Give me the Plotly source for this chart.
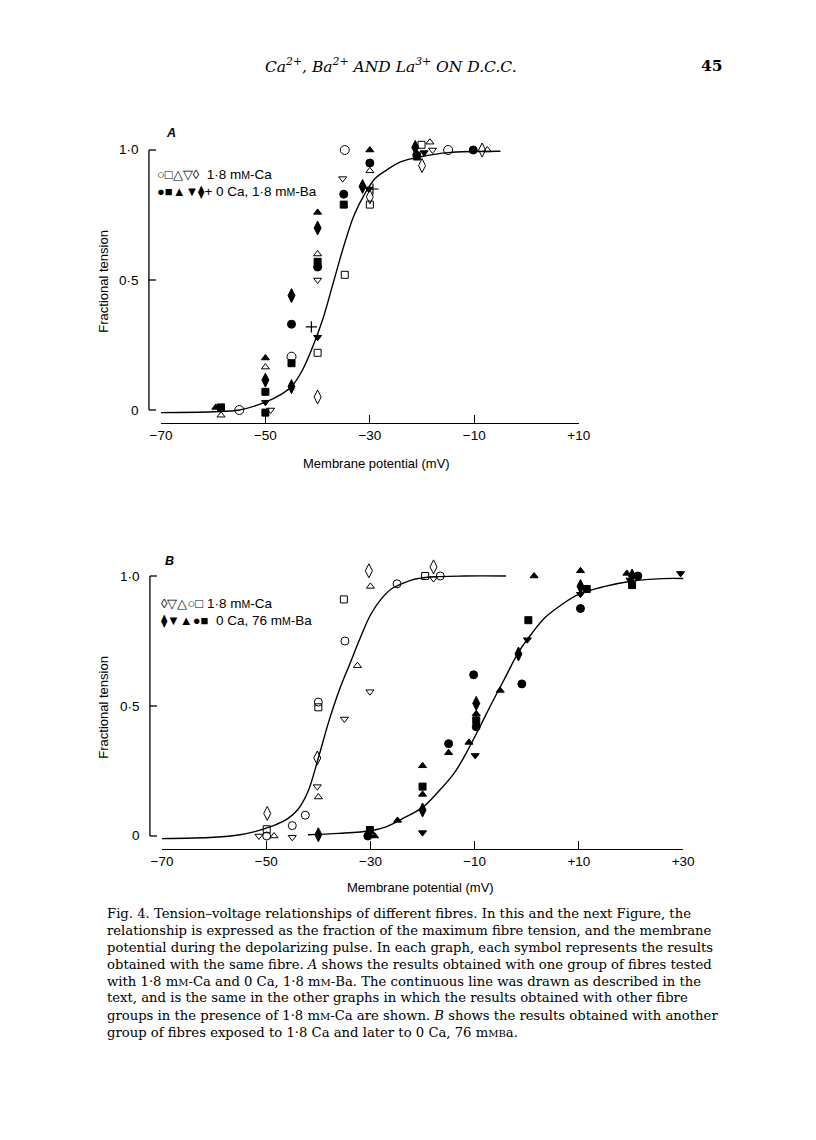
import plotly.graph_objects as go

W, H = 816, 1140

# ---------------- Panel A data (membrane potential mV, fractional tension) ----------------
A_curve_v = [-70, -60, -55, -50, -47, -45, -43, -41, -39, -37, -35, -33, -31, -29, -27, -24, -20, -15, -5]
A_curve_y = [-0.01, -0.007, 0.0, 0.03, 0.06, 0.09, 0.15, 0.24, 0.35, 0.49, 0.63, 0.75, 0.83, 0.89, 0.92, 0.955, 0.975, 0.99, 0.995]

# 1.8 mM-Ca (open symbols)
A_ca_circle_v = [-55, -45, -34.8, -15]
A_ca_circle_y = [0.0, 0.205, 1.0, 1.0]
A_ca_square_v = [-40, -34.8, -30, -20.1]
A_ca_square_y = [0.22, 0.52, 0.79, 1.02]
A_ca_tri_up_v = [-58.5, -50, -40, -30, -18.5, -7.5]
A_ca_tri_up_y = [-0.02, 0.165, 0.60, 0.92, 1.03, 1.0]
A_ca_tri_dn_v = [-49, -40, -35.2, -18]
A_ca_tri_dn_y = [0.0, 0.50, 0.89, 1.0]
A_ca_diam_v = [-40, -30, -20, -8.5]
A_ca_diam_y = [0.05, 0.82, 0.94, 1.0]

# 0 Ca, 1.8 mM-Ba (filled symbols)
A_ba_circle_v = [-45, -40, -35, -30, -21, -10.2]
A_ba_circle_y = [0.33, 0.55, 0.83, 0.95, 0.98, 1.0]
A_ba_square_v = [-58.5, -50, -50, -45, -40, -35, -21]
A_ba_square_y = [0.01, 0.07, -0.01, 0.18, 0.57, 0.79, 0.975]
A_ba_tri_up_v = [-59.5, -50, -40, -30]
A_ba_tri_up_y = [0.01, 0.20, 0.76, 1.0]
A_ba_tri_dn_v = [-50, -40, -30.2, -19.6]
A_ba_tri_dn_y = [0.03, 0.28, 0.85, 0.99]
A_ba_diam_v = [-50, -45, -45, -40, -31.4, -21.3]
A_ba_diam_y = [0.115, 0.44, 0.09, 0.70, 0.86, 1.01]
A_ba_cross_v = [-41.2, -29.4]
A_ba_cross_y = [0.32, 0.85]

# ---------------- Panel B data ----------------
B_ca_curve_v = [-70, -60, -55, -52, -50, -48, -46, -44, -42, -40, -38, -36, -34, -32, -30, -28, -26, -24, -22, -19, -12, -4]
B_ca_curve_y = [-0.01, -0.005, 0.005, 0.018, 0.03, 0.045, 0.065, 0.10, 0.17, 0.30, 0.44, 0.56, 0.66, 0.76, 0.85, 0.91, 0.95, 0.97, 0.985, 0.995, 1.0, 1.0]
B_ba_curve_v = [-42, -36, -30, -27, -24, -20, -17, -14, -12, -9, -7, -4, -1.5, 1, 3.5, 6, 10, 15, 20, 26, 31]
B_ba_curve_y = [0.005, 0.01, 0.02, 0.035, 0.065, 0.11, 0.17, 0.24, 0.305, 0.42, 0.50, 0.615, 0.71, 0.78, 0.84, 0.88, 0.93, 0.96, 0.98, 0.99, 0.99]

# 1.8 mM-Ca (open symbols)
B_ca_diam_v = [-49.8, -40.2, -30.3, -17.9]
B_ca_diam_y = [0.087, 0.30, 1.02, 1.035]
B_ca_tri_dn_v = [-51.4, -45, -40.2, -35, -30.1, -17.9]
B_ca_tri_dn_y = [0.0, -0.005, 0.19, 0.45, 0.555, 0.99]
B_ca_tri_up_v = [-48.5, -40, -32.5, -30]
B_ca_tri_up_y = [0.0, 0.15, 0.655, 0.96]
B_ca_circle_v = [-49.9, -45, -42.5, -40, -34.9, -24.9, -16.6]
B_ca_circle_y = [0.0, 0.04, 0.08, 0.515, 0.75, 0.97, 1.0]
B_ca_square_v = [-49.9, -40, -35.1, -19.5]
B_ca_square_y = [0.026, 0.495, 0.91, 1.0]

# 0 Ca, 76 mM-Ba (filled symbols)
B_ba_diam_v = [-40, -20, -9.7, -1.6, 10.3, 20.2, 30.5]
B_ba_diam_y = [0.005, 0.10, 0.51, 0.70, 0.96, 1.0, 0.97]
B_ba_tri_dn_v = [-20, -9.9, 0.1, 10.3, 19.8, 29.5]
B_ba_tri_dn_y = [0.013, 0.31, 0.755, 0.93, 0.985, 1.01]
B_ba_tri_up_v = [-29.2, -24.8, -20, -20, -15, -11.1, -9.7, -5.1, 1.4, 10.3, 19.2]
B_ba_tri_up_y = [0.0, 0.06, 0.27, 0.16, 0.32, 0.36, 0.47, 0.56, 1.0, 1.02, 1.01]
B_ba_circle_v = [-30.5, -15, -10.2, -9.7, -0.95, 10.3, 21.3]
B_ba_circle_y = [0.0, 0.355, 0.62, 0.42, 0.585, 0.875, 1.0]
B_ba_square_v = [-30.1, -20, -9.7, 0.3, 11.5, 20.2, 31.2]
B_ba_square_y = [0.023, 0.19, 0.445, 0.83, 0.95, 0.965, 1.0]

# tick labels
A_xticks = [-70, -50, -30, -10, 10]
A_xtext = ["\u221270", "\u221250", "\u221230", "\u221210", "+10"]
B_xticks = [-70, -50, -30, -10, 10, 30]
B_xtext = ["\u221270", "\u221250", "\u221230", "\u221210", "+10", "+30"]
yticks = [0, 0.5, 1.0]
ytext = ["0", "0\u00b75", "1\u00b70"]

SMC = "<span style='font-size:10px'>M</span>"
caption_lines = [
    "Fig. 4. Tension\u2013voltage relationships of different fibres. In this and the next Figure, the",
    "relationship is expressed as the fraction of the maximum fibre tension, and the membrane",
    "potential during the depolarizing pulse. In each graph, each symbol represents the results",
    "obtained with the same fibre. <i>A</i> shows the results obtained with one group of fibres tested",
    "with 1\u00b78 m" + SMC + "-Ca and 0 Ca, 1\u00b78 m" + SMC + "-Ba. The continuous line was drawn as described in the",
    "text, and is the same in the other graphs in which the results obtained with other fibre",
    "groups in the presence of 1\u00b78 m" + SMC + "-Ca are shown. <i>B</i> shows the results obtained with another",
    "group of fibres exposed to 1\u00b78 Ca and later to 0 Ca, 76 m<span style='font-size:10px'>MB</span>a.",
]

# page-to-paper mapping (the photographed page is slightly narrowed about its centre)
SX, SY = 0.969, 1.0
CX, CY = 408.0, 570.0


def px(x):
    return (CX + (x - CX) / SX) / W


def py(y):
    return 1 - (CY + (y - CY) / SY) / H


SANS = "Liberation Sans, Arial, sans-serif"
SERIF = "DejaVu Serif, Liberation Serif, serif"

# panel geometry (target pixels): y-axis x position, y of value 0 and 1, x-axis line y, x span
PANELS = {
    "A": dict(yx=150, y0=410, y1=150, xline=423, xl=162, xr=578),
    "B": dict(yx=151, y0=836, y1=576, xline=849, xl=163, xr=682),
}

fig = go.Figure()


def add_pts(v, y, symbol, size, xa, ya, lw=1.0):
    fig.add_trace(go.Scatter(
        x=v, y=y, mode="markers", xaxis=xa, yaxis=ya, cliponaxis=False,
        marker=dict(symbol=symbol, size=size, color="black",
                    line=dict(color="black", width=lw)),
        showlegend=False, hoverinfo="x+y"))


def add_curve(v, y, xa, ya):
    fig.add_trace(go.Scatter(
        x=v, y=y, mode="lines", xaxis=xa, yaxis=ya,
        line=dict(color="black", width=1.4, shape="spline", smoothing=1.0),
        showlegend=False, hoverinfo="skip"))


# Panel A
add_curve(A_curve_v, A_curve_y, "x", "y")
add_pts(A_ca_circle_v, A_ca_circle_y, "circle-open", 9, "x", "y")
add_pts(A_ca_square_v, A_ca_square_y, "square-open", 7, "x", "y")
add_pts(A_ca_tri_up_v, A_ca_tri_up_y, "triangle-up-open", 7, "x", "y")
add_pts(A_ca_tri_dn_v, A_ca_tri_dn_y, "triangle-down-open", 7, "x", "y")
add_pts(A_ca_diam_v, A_ca_diam_y, "diamond-tall-open", 10, "x", "y")
add_pts(A_ba_circle_v, A_ba_circle_y, "circle", 8, "x", "y")
add_pts(A_ba_square_v, A_ba_square_y, "square", 7, "x", "y")
add_pts(A_ba_tri_up_v, A_ba_tri_up_y, "triangle-up", 7, "x", "y")
add_pts(A_ba_tri_dn_v, A_ba_tri_dn_y, "triangle-down", 7, "x", "y")
add_pts(A_ba_diam_v, A_ba_diam_y, "diamond-tall", 10, "x", "y")
add_pts(A_ba_cross_v, A_ba_cross_y, "cross-thin-open", 8, "x", "y", lw=1.2)

# Panel B
add_curve(B_ca_curve_v, B_ca_curve_y, "x2", "y2")
add_curve(B_ba_curve_v, B_ba_curve_y, "x2", "y2")
add_pts(B_ca_diam_v, B_ca_diam_y, "diamond-tall-open", 10, "x2", "y2")
add_pts(B_ca_tri_dn_v, B_ca_tri_dn_y, "triangle-down-open", 7, "x2", "y2")
add_pts(B_ca_tri_up_v, B_ca_tri_up_y, "triangle-up-open", 7, "x2", "y2")
add_pts(B_ca_circle_v, B_ca_circle_y, "circle-open", 8, "x2", "y2")
add_pts(B_ca_square_v, B_ca_square_y, "square-open", 7, "x2", "y2")
add_pts(B_ba_diam_v, B_ba_diam_y, "diamond-tall", 10, "x2", "y2")
add_pts(B_ba_tri_dn_v, B_ba_tri_dn_y, "triangle-down", 7, "x2", "y2")
add_pts(B_ba_tri_up_v, B_ba_tri_up_y, "triangle-up", 7, "x2", "y2")
add_pts(B_ba_circle_v, B_ba_circle_y, "circle", 8, "x2", "y2")
add_pts(B_ba_square_v, B_ba_square_y, "square", 7, "x2", "y2")

xcommon = dict(showline=True, linecolor="black", linewidth=1.3, ticks="inside",
               ticklen=8, tickwidth=1.3, tickcolor="black", showgrid=False,
               zeroline=False, tickfont=dict(family=SANS, size=13.5, color="black"),
               fixedrange=True)
yhidden = dict(visible=False, range=[-0.05, 1.05], fixedrange=True)

pa, pb = PANELS["A"], PANELS["B"]
fig.update_layout(
    width=W, height=H, margin=dict(l=0, r=0, t=0, b=0),
    paper_bgcolor="white", plot_bgcolor="rgba(0,0,0,0)", showlegend=False,
    xaxis=dict(domain=[px(pa["xl"]), px(pa["xr"])], range=[-70, 10], anchor="y",
               tickvals=A_xticks, ticktext=A_xtext, **xcommon),
    yaxis=dict(domain=[py(pa["xline"]), py(pa["y1"] - (pa["xline"] - pa["y0"]))], anchor="x", **yhidden),
    xaxis2=dict(domain=[px(pb["xl"]), px(pb["xr"])], range=[-70, 30], anchor="y2",
                tickvals=B_xticks, ticktext=B_xtext, **xcommon),
    yaxis2=dict(domain=[py(pb["xline"]), py(pb["y1"] - (pb["xline"] - pb["y0"]))], anchor="x2", **yhidden),
)

ann = []


def txt(x, y, text, size, family=SANS, xanchor="left", angle=0, yanchor="middle"):
    ann.append(dict(x=px(x), y=py(y), xref="paper", yref="paper", text=text,
                    showarrow=False, xanchor=xanchor, yanchor=yanchor, textangle=angle,
                    font=dict(family=family, size=size, color="black")))


# y axes: line, inward ticks and labels
shapes = []
for key in ("A", "B"):
    p = PANELS[key]
    shapes.append(dict(type="line", xref="paper", yref="paper",
                       x0=px(p["yx"]), x1=px(p["yx"]), y0=py(p["y0"]), y1=py(p["y1"]),
                       line=dict(color="black", width=1.3)))
    for tv, tt in zip(yticks, ytext):
        yy = p["y0"] + (p["y1"] - p["y0"]) * tv
        shapes.append(dict(type="line", xref="paper", yref="paper",
                           x0=px(p["yx"]), x1=px(p["yx"] + 7), y0=py(yy), y1=py(yy),
                           line=dict(color="black", width=1.3)))
        txt(p["yx"] - 8, yy, tt, 13.5, SANS, "right")
fig.update_layout(shapes=shapes)

SM = "<span style='font-size:10.5px'>M</span>"
SYM = "<span style='font-size:13px'>{}</span>"
# header
txt(391, 66, "<i>Ca<sup>2+</sup>, Ba<sup>2+</sup> AND La<sup>3+</sup> ON D.C.C.</i>", 15.5, SERIF, "center")
txt(711, 66, "<b>45</b>", 15.5, SERIF, "center")
# panel labels
txt(172, 133, "<b><i>A</i></b>", 12.5, SANS, "center")
txt(170, 561, "<b><i>B</i></b>", 12.5, SANS, "center")
# legends
txt(156, 174, SYM.format("\u25cb\u25a1\u25b3\u25bd\u25ca") + "  1\u00b78 m" + SM + "-Ca", 13.5)
txt(156, 192, SYM.format("\u25cf\u25a0\u25b2\u25bc\u29eb") + "+ 0 Ca, 1\u00b78 m" + SM + "-Ba", 13.5)
txt(160, 603, SYM.format("\u25ca\u25bd\u25b3\u25cb\u25a1") + " 1\u00b78 m" + SM + "-Ca", 13.5)
txt(160, 621, SYM.format("\u29eb\u25bc\u25b2\u25cf\u25a0") + "  0 Ca, 76 m" + SM + "-Ba", 13.5)
# axis titles
txt(104, 281, "Fractional tension", 13, SANS, "center", -90)
txt(104, 707, "Fractional tension", 13, SANS, "center", -90)
txt(377, 464, "Membrane potential (mV)", 13, SANS, "center")
txt(420, 887, "Membrane potential (mV)", 13, SANS, "center")
# caption
for i, line in enumerate(caption_lines):
    txt(106, 913 + 17 * i, line, 13.2, SERIF, "left")

fig.update_layout(annotations=ann)

fig.write_html("out.html", config={"displayModeBar": False},
               post_script="document.body.style.margin='0px';")
